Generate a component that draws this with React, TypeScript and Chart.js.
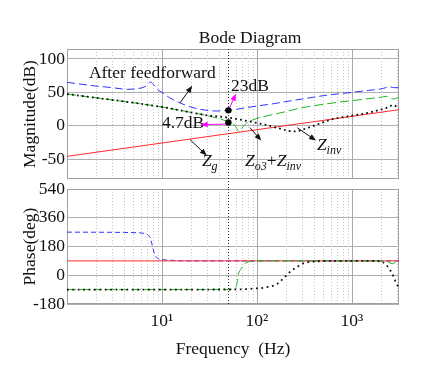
import React, { useEffect, useRef } from 'react';
import { Chart, registerables } from 'chart.js';

Chart.register(...registerables);

// ---------------- data ----------------
const FREQ_MIN = 1;
const FREQ_MAX = 3125;
const MAG_MIN = -80;
const MAG_MAX = 115;
const PHASE_MIN = -180;
const PHASE_MAX = 540;
const magTicks = [-50, 0, 50, 100];
const phaseTicks = [-180, 0, 180, 360, 540];
const freqTicks = [10, 100, 1000];
const freqTickLabels = ['10¹', '10²', '10³'];

// Magnitude (dB)
const feedMagFreq = [1, 2, 3, 4.3, 5.5, 6.5, 7.1, 7.6, 8.1, 8.6, 9.2, 10, 12, 15, 20, 28, 38, 50, 70, 100, 150, 200, 300, 500, 700, 1000, 1500, 2000, 2500, 2800, 3125];
const feedMagDb = [65, 59.5, 57, 54.5, 55.5, 58, 61.5, 65.5, 62, 57, 53, 50, 42, 35, 28, 23.5, 22, 23, 26, 29.5, 33, 36, 40, 45, 47.5, 50, 53, 55, 58, 57, 57];

const zo3MagFreq = [1, 10, 20, 30, 40, 50, 56, 60, 63, 66, 70, 75, 80, 90, 100, 130, 200, 300, 500, 700, 1000, 1500, 2000, 2300, 2500, 2700, 3125];
const zo3MagDb = [47.5, 28, 20, 15, 10.5, 6, 3, -2, -7, -8, -3, 2, 5, 8.5, 11, 15, 21, 27, 32, 35, 37.5, 40.5, 42.5, 44, 42, 40, 42.5];

const zinvMagFreq = [1, 10, 20, 30, 50, 70, 100, 130, 170, 220, 260, 300, 400, 600, 1000, 1500, 2000, 2400, 2700, 3125];
const zinvMagDb = [47.5, 28, 20, 15.5, 12, 8.5, 4, 0.5, -4, -8, -8.5, -6, 0, 9, 15, 19.5, 24, 27.5, 31, 26];

const zgMagFreq = [1, 10, 100, 1000, 3125];
const zgMagDb = [-46, -26, -6, 14, 24];

// Phase (deg)
const feedPhFreq = [1, 4, 5.5, 6.5, 7, 7.5, 7.8, 8.1, 8.4, 9, 10, 13, 20, 3125];
const feedPhDeg = [270, 268, 266, 262, 255, 235, 200, 160, 127, 106, 98, 93, 90, 90];

const zgPhFreq = [1, 3125];
const zgPhDeg = [90, 90];

const zo3PhFreq = [1, 50, 56, 59, 61, 64, 67, 70, 74, 78, 85, 100, 2000, 2300, 2500, 2650, 2850, 3125];
const zo3PhDeg = [-90, -89, -86, -80, -63, 10, 35, 52, 70, 80, 87, 90, 90, 88, 78, 72, 80, 90];

const zinvPhFreq = [1, 60, 85, 126, 162, 188, 222, 265, 305, 360, 425, 600, 1000, 1800, 2100, 2300, 2500, 2700, 2900, 3125];
const zinvPhDeg = [-90, -89, -85, -75, -55, -22, 20, 52, 74, 83, 87, 90, 90, 89, 82, 65, 35, 0, -45, -80];

// markers at 50 Hz
const markerFreq = 50;
const markerDb = [23, 4.7];

// ---------------- styles ----------------
const SERIF = '"Liberation Serif", "Times New Roman", serif';
const FS = 17.5;
const TXT = '#111111';
const C_BLUE = '#3030ff';
const C_GREEN = '#1fb51f';
const C_RED = '#ff2a2a';
const C_BLACK = '#111111';
const C_MAGENTA = '#ff00ff';

function zip(xs: number[], ys: number[]) {
  return xs.map((x, i) => ({ x, y: ys[i] }));
}

function line(label: string, xs: number[], ys: number[], color: string, width: number, dash: number[], order: number) {
  return {
    label,
    data: zip(xs, ys),
    borderColor: color,
    backgroundColor: color,
    borderWidth: width,
    borderDash: dash,
    pointRadius: 0,
    fill: false,
    cubicInterpolationMode: 'monotone' as const,
    order,
  };
}

const gridFreqs: number[] = [];
[1, 10, 100, 1000].forEach((d) => {
  for (let m = 1; m <= 9; m++) {
    const v = m * d;
    if (v <= FREQ_MAX) gridFreqs.push(v);
  }
});

function makeGridPlugin(extendBottom: number) {
  return {
    id: 'bodeGrid',
    beforeDatasetsDraw(chart: any) {
      const { ctx, chartArea: a, scales } = chart;
      const xs = scales.x;
      ctx.save();
      for (const v of gridFreqs) {
        const px = xs.getPixelForValue(v);
        if (px <= a.left + 0.5 || px >= a.right - 0.5) continue;
        const lg = Math.log10(v);
        const major = Math.abs(lg - Math.round(lg)) < 1e-9;
        const x = Math.round(px) + 0.5;
        ctx.beginPath();
        ctx.lineWidth = 1;
        ctx.strokeStyle = major ? '#aaaaaa' : '#c8c8c8';
        ctx.setLineDash(major ? [] : [1, 2]);
        ctx.moveTo(x, a.top);
        ctx.lineTo(x, a.bottom);
        ctx.stroke();
      }
      // frame
      ctx.setLineDash([]);
      ctx.strokeStyle = '#a0a0a0';
      ctx.lineWidth = 1;
      ctx.strokeRect(Math.round(a.left) + 0.5, Math.round(a.top) + 0.5, Math.round(a.right - a.left) - 1, Math.round(a.bottom - a.top) - 1);
      // 50 Hz marker line
      const mx = Math.round(xs.getPixelForValue(markerFreq)) + 0.5;
      ctx.beginPath();
      ctx.strokeStyle = '#222';
      ctx.setLineDash([1, 2]);
      ctx.moveTo(mx, a.top);
      ctx.lineTo(mx, a.bottom + extendBottom);
      ctx.stroke();
      ctx.restore();
    },
  };
}

function arrow(ctx: CanvasRenderingContext2D, x1: number, y1: number, x2: number, y2: number, color: string) {
  const ang = Math.atan2(y2 - y1, x2 - x1);
  const L = 7;
  const W = 2.8;
  const c = Math.cos(ang);
  const s = Math.sin(ang);
  ctx.save();
  ctx.setLineDash([]);
  ctx.strokeStyle = color;
  ctx.fillStyle = color;
  ctx.lineWidth = 1;
  ctx.beginPath();
  ctx.moveTo(x1, y1);
  ctx.lineTo(x2 - L * 0.7 * c, y2 - L * 0.7 * s);
  ctx.stroke();
  ctx.beginPath();
  ctx.moveTo(x2, y2);
  ctx.lineTo(x2 - L * c + W * s, y2 - L * s - W * c);
  ctx.lineTo(x2 - L * c - W * s, y2 - L * s + W * c);
  ctx.closePath();
  ctx.fill();
  ctx.restore();
}

type Run = { t: string; italic?: boolean; size?: number; dy?: number };

function runs(ctx: CanvasRenderingContext2D, x: number, y: number, parts: Run[]) {
  let cx = x;
  for (const p of parts) {
    ctx.font = `${p.italic ? 'italic ' : ''}${p.size ?? FS}px ${SERIF}`;
    ctx.fillText(p.t, cx, y + (p.dy ?? 0));
    cx += ctx.measureText(p.t).width;
  }
}

const annotPlugin = {
  id: 'bodeAnnot',
  afterDatasetsDraw(chart: any) {
    const { ctx, chartArea: a } = chart;
    const xs = chart.scales.x;
    const ys = chart.scales.y;
    const P = (f: number, v: number) => [xs.getPixelForValue(f), ys.getPixelForValue(v)];
    ctx.save();
    ctx.fillStyle = TXT;
    ctx.textBaseline = 'alphabetic';
    ctx.textAlign = 'center';
    ctx.font = `${FS}px ${SERIF}`;
    ctx.fillText('Bode Diagram', (a.left + a.right) / 2 + 17, a.top - 6);

    ctx.textAlign = 'left';
    let p = P(1.7, 71.6);
    ctx.fillText('After feedforward', p[0], p[1]);
    p = P(53.3, 52.2);
    ctx.fillText('23dB', p[0], p[1]);
    p = P(10, -3);
    ctx.fillText('4.7dB', p[0], p[1]);

    const ar = (f1: number, v1: number, f2: number, v2: number, col: string) => {
      const s = P(f1, v1);
      const e = P(f2, v2);
      arrow(ctx, s[0], s[1], e[0], e[1], col);
    };
    // black arrows
    ar(15.5, 34.3, 20.8, 59.7, C_BLACK);
    ar(19.7, -20.9, 29.6, -44.8, C_BLACK);
    ar(84.3, -3, 111, -22.4, C_BLACK);
    ar(265, -3, 418, -22.4, C_BLACK);
    // magenta arrows
    ar(markerFreq, markerDb[0], 60.1, 47.8, C_MAGENTA);
    ar(48, 2.5, 25.5, 1.5, C_MAGENTA);

    // dots
    ctx.fillStyle = '#000';
    for (const v of markerDb) {
      const d = P(markerFreq, v);
      ctx.beginPath();
      ctx.arc(d[0], d[1], 3.2, 0, Math.PI * 2);
      ctx.fill();
    }

    // Z labels
    ctx.fillStyle = TXT;
    p = P(26.3, -61);
    runs(ctx, p[0], p[1], [{ t: 'Z', italic: true }, { t: 'g', italic: true, size: 12, dy: 4 }]);
    p = P(74.9, -61);
    runs(ctx, p[0], p[1], [
      { t: 'Z', italic: true },
      { t: 'o3', italic: true, size: 12, dy: 4 },
      { t: '+' },
      { t: 'Z', italic: true },
      { t: 'inv', italic: true, size: 12, dy: 4 },
    ]);
    p = P(427, -35.8);
    runs(ctx, p[0], p[1], [{ t: 'Z', italic: true }, { t: 'inv', italic: true, size: 12, dy: 4 }]);
    ctx.restore();
  },
};

const tickFont = { family: SERIF, size: FS };

function baseX(showTicks: boolean, height: number, title?: string) {
  return {
    type: 'logarithmic' as const,
    min: FREQ_MIN,
    max: FREQ_MAX,
    afterBuildTicks: (s: any) => {
      s.ticks = freqTicks.map((v) => ({ value: v }));
    },
    afterFit: (s: any) => {
      s.height = height;
    },
    grid: { display: false, drawTicks: false },
    border: { display: false },
    ticks: {
      display: showTicks,
      autoSkip: false,
      maxRotation: 0,
      padding: 6.5,
      color: TXT,
      font: tickFont,
      callback: (v: any) => {
        const i = freqTicks.indexOf(Number(v));
        return i >= 0 ? freqTickLabels[i] : '';
      },
    },
    title: title
      ? { display: true, text: title, color: TXT, font: { family: SERIF, size: FS }, padding: { top: 0, bottom: 0 } }
      : { display: false },
  };
}

function baseY(min: number, max: number, ticks: number[], title: string) {
  return {
    type: 'linear' as const,
    min,
    max,
    afterBuildTicks: (s: any) => {
      s.ticks = ticks.map((v) => ({ value: v }));
    },
    afterFit: (s: any) => {
      s.width = 67;
    },
    grid: { color: '#b0b0b0', lineWidth: 1, drawTicks: false },
    border: { display: false },
    ticks: { padding: 2, color: TXT, font: tickFont, callback: (v: any) => String(v) },
    title: { display: true, text: title, color: TXT, font: { family: SERIF, size: FS }, padding: { top: 20, bottom: 0 } },
  };
}

export default function App() {
  const magRef = useRef<HTMLCanvasElement | null>(null);
  const phRef = useRef<HTMLCanvasElement | null>(null);

  useEffect(() => {
    const common = {
      animation: false as const,
      responsive: false,
      devicePixelRatio: 1,
      events: [] as any[],
      plugins: { legend: { display: false }, tooltip: { enabled: false }, title: { display: false } },
    };
    const mag = new Chart(magRef.current as HTMLCanvasElement, {
      type: 'line',
      data: {
        datasets: [
          line('Z_inv', zinvMagFreq, zinvMagDb, C_BLACK, 1.8, [1.8, 3.2], 0),
          line('Z_o3+Z_inv', zo3MagFreq, zo3MagDb, C_GREEN, 1, [9, 4], 1),
          line('Z_g', zgMagFreq, zgMagDb, C_RED, 1, [], 2),
          line('After feedforward', feedMagFreq, feedMagDb, C_BLUE, 1, [8, 4], 3),
        ],
      },
      options: {
        ...common,
        layout: { padding: { left: 0, top: 49, right: 33, bottom: 194 } },
        scales: {
          x: baseX(false, 0),
          y: baseY(MAG_MIN, MAG_MAX, magTicks, 'Magnitude(dB)'),
        },
      } as any,
      plugins: [makeGridPlugin(10), annotPlugin],
    });
    const ph = new Chart(phRef.current as HTMLCanvasElement, {
      type: 'line',
      data: {
        datasets: [
          line('Z_inv', zinvPhFreq, zinvPhDeg, C_BLACK, 1.8, [1.8, 3.6], 0),
          line('Z_o3+Z_inv', zo3PhFreq, zo3PhDeg, C_GREEN, 1, [9, 4], 1),
          line('Z_g', zgPhFreq, zgPhDeg, C_RED, 1, [], 2),
          line('After feedforward', feedPhFreq, feedPhDeg, C_BLUE, 1, [5, 3], 3),
        ],
      },
      options: {
        ...common,
        layout: { padding: { left: 0, top: 189, right: 33, bottom: 13.5 } },
        scales: {
          x: baseX(true, 55.5, 'Frequency  (Hz)'),
          y: baseY(PHASE_MIN, PHASE_MAX, phaseTicks, 'Phase(deg)'),
        },
      } as any,
      plugins: [makeGridPlugin(0)],
    });
    return () => {
      mag.destroy();
      ph.destroy();
    };
  }, []);

  return (
    <div style={{ position: 'fixed', left: 0, top: 0, width: 432, height: 373, background: '#fff' }}>
      <canvas ref={magRef} width={432} height={373} style={{ position: 'absolute', left: 0, top: 0 }} />
      <canvas ref={phRef} width={432} height={373} style={{ position: 'absolute', left: 0, top: 0 }} />
    </div>
  );
}
